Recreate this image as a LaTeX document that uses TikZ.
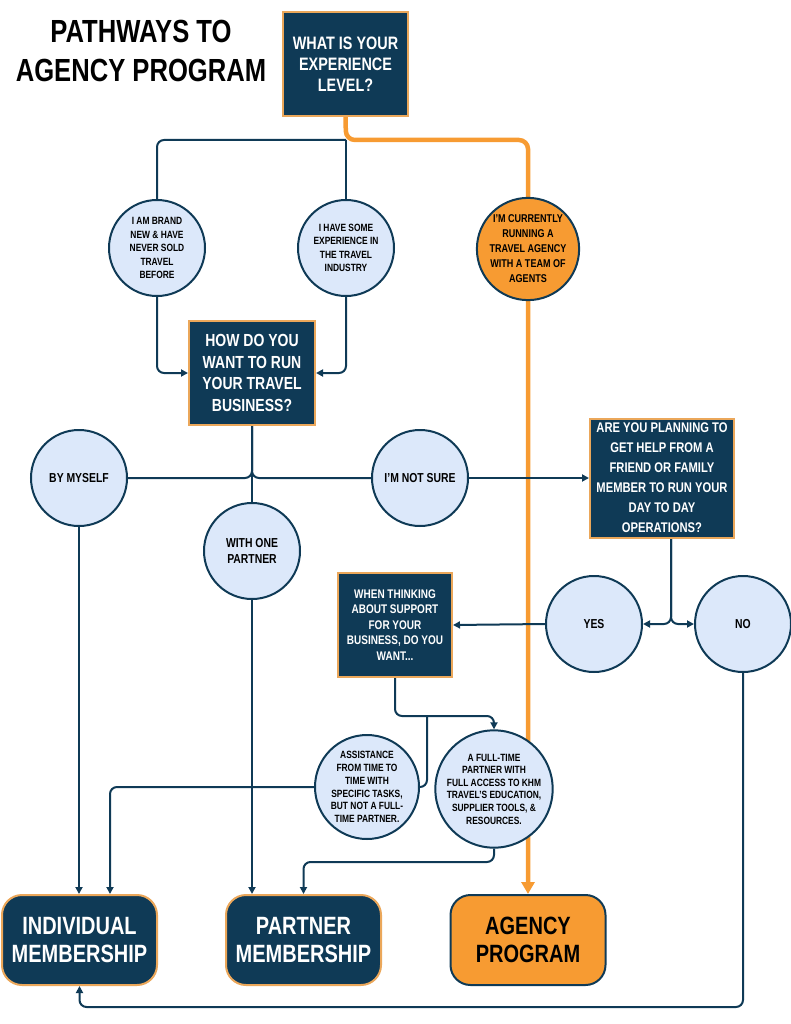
\documentclass[tikz,border=0pt]{standalone}
\usepackage{fontspec}
\setmainfont{Liberation Sans}[FakeStretch=0.8]
\usetikzlibrary{arrows.meta}
\definecolor{navy}{HTML}{0F3A56}
\definecolor{orng}{HTML}{F79B32}
\definecolor{lblue}{HTML}{DCE8FA}
\definecolor{boxedge}{HTML}{EBA75A}
\pgfdeclarelayer{bg}
\pgfsetlayers{bg,main}
\begin{document}
\begin{tikzpicture}[x=1pt,y=-1pt,
  qbox/.style={rectangle, fill=navy, draw=boxedge, line width=2pt, text=white, align=center, inner sep=0pt},
  acirc/.style={circle, fill=lblue, draw=navy, line width=2pt, text=black, align=center, inner sep=0pt, minimum size=96pt},
  ocirc/.style={acirc, fill=orng},
  mbox/.style={rectangle, rounded corners=20pt, fill=navy, draw=boxedge, line width=2pt, text=white, align=center, inner sep=0pt, minimum width=155pt, minimum height=90pt, font=\fontsize{25}{28}\selectfont\bfseries},
  abox/.style={mbox, fill=orng, draw=navy, text=black},
  conn/.style={draw=navy, line width=2pt, rounded corners=7pt},
  arr/.style={conn, -{Triangle[length=7pt,width=7pt]}},
  oconn/.style={draw=orng, line width=4.5pt, rounded corners=9pt, -{Triangle[length=12pt,width=13pt]}},
  sfont/.style={font=\fontsize{10.5}{13.5}\selectfont\bfseries}
]
\useasboundingbox (0,0) rectangle (791,1024);

\node[font=\fontsize{32}{39}\selectfont\bfseries, align=center] (title) at (141,51) {PATHWAYS TO\\AGENCY PROGRAM};

\node[qbox, minimum width=125pt, minimum height=104pt, font=\fontsize{18}{21}\selectfont\bfseries] (q1) at (345.5,64) {WHAT IS YOUR\\EXPERIENCE\\LEVEL?};

\node[acirc, sfont] (c1) at (157,248) {I AM BRAND\\NEW \& HAVE\\NEVER SOLD\\TRAVEL\\BEFORE};
\node[acirc, sfont] (c2) at (346,248) {I HAVE SOME\\EXPERIENCE IN\\THE TRAVEL\\INDUSTRY};
\node[ocirc, font=\fontsize{11.3}{15}\selectfont\bfseries] (c3) at (528,249) {I’M CURRENTLY\\RUNNING A\\TRAVEL AGENCY\\WITH A TEAM OF\\AGENTS};

\node[qbox, minimum width=126pt, minimum height=104pt, font=\fontsize{17.5}{21.7}\selectfont\bfseries] (q2) at (252,373) {HOW DO YOU\\WANT TO RUN\\YOUR TRAVEL\\BUSINESS?};

\node[acirc, font=\fontsize{13}{15.5}\selectfont\bfseries] (r1) at (79,478) {BY MYSELF};
\node[acirc, font=\fontsize{13}{15.5}\selectfont\bfseries] (r2) at (252,551) {WITH ONE\\PARTNER};
\node[acirc, font=\fontsize{13}{15.5}\selectfont\bfseries] (r3) at (420,478) {I’M NOT SURE};

\node[qbox, minimum width=144pt, minimum height=119pt, font=\fontsize{14}{20}\selectfont\bfseries] (q3) at (662,478) {ARE YOU PLANNING TO\\GET HELP FROM A\\FRIEND OR FAMILY\\MEMBER TO RUN YOUR\\DAY TO DAY\\OPERATIONS?};

\node[acirc, font=\fontsize{13}{15.5}\selectfont\bfseries] (yes) at (594,624) {YES};
\node[acirc, font=\fontsize{13}{15.5}\selectfont\bfseries] (no) at (743,624) {NO};

\node[qbox, minimum width=114pt, minimum height=104pt, font=\fontsize{12.5}{15.5}\selectfont\bfseries] (q4) at (395,625) {WHEN THINKING\\ABOUT SUPPORT\\FOR YOUR\\BUSINESS, DO YOU\\WANT...};

\node[acirc, minimum size=104pt, font=\fontsize{10.5}{12.8}\selectfont\bfseries] (a1) at (367,787) {ASSISTANCE\\FROM TIME TO\\TIME WITH\\SPECIFIC TASKS,\\BUT NOT A FULL-\\TIME PARTNER.};
\node[acirc, minimum size=100pt, font=\fontsize{10.5}{12.6}\selectfont\bfseries] (f2) at (494,789) {A FULL-TIME\\PARTNER WITH\\FULL ACCESS TO KHM\\TRAVEL’S EDUCATION,\\SUPPLIER TOOLS, \&\\RESOURCES.};

\node[mbox] (m1) at (79.5,940) {INDIVIDUAL\\MEMBERSHIP};
\node[mbox] (m2) at (303.5,940) {PARTNER\\MEMBERSHIP};
\node[abox] (m3) at (528,940) {AGENCY\\PROGRAM};

\coordinate (s1) at (346,140);
\coordinate (j4) at (427,716);

\begin{pgfonlayer}{bg}
  % experience split
  \draw[conn] (s1) -| (c1.north);
  \draw[conn] (s1) -- (c2.north);
  \draw[oconn] (q1.south) -- (s1) -| (m3.north);
  % to q2
  \draw[arr] (c1.south) |- (q2.west);
  \draw[arr] (c2.south) |- (q2.east);
  % q2 split
  \draw[conn] (q2.south) |- (r1.east);
  \draw[conn] (q2.south) |- (r3.west);
  \draw[conn] (q2.south) -- (r2.north);
  \draw[arr] (r3.east) -- (q3.west);
  % q3 split
  \draw[arr] ([xshift=9pt]q3.south) |- (yes.east);
  \draw[arr] ([xshift=9pt]q3.south) |- (no.west);
  \draw[arr] (yes.west) -- (q4.east);
  % q4 split
  \draw[arr] (q4.south) -- (395,716) -- (494,716) -- (f2.north);
  \draw[conn] (j4) |- (a1.east);
  % to memberships
  \draw[arr] (r1.south) -- (r1.south |- m1.north);
  \draw[arr] (a1.west) -| ([xshift=30.5pt]m1.north);
  \draw[arr] (r2.south) -- (r2.south |- m2.north);
  \draw[arr] (f2.south) -- (494,862) -| (m2.north);
  \draw[arr] (no.south) -- (743,1007) -| (m1.south);
\end{pgfonlayer}
\end{tikzpicture}
\end{document}
